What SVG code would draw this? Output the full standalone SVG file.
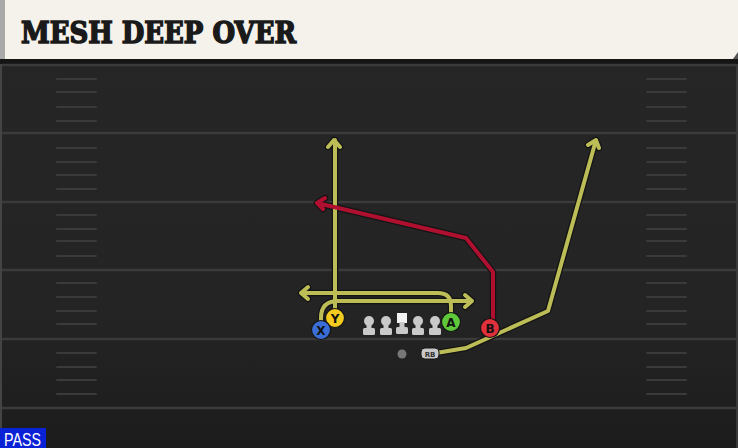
<svg xmlns="http://www.w3.org/2000/svg" width="738" height="448" viewBox="0 0 738 448">
<defs>
<linearGradient id="field" x1="0" y1="0" x2="0" y2="1">
<stop offset="0" stop-color="#262626"/>
<stop offset="0.7" stop-color="#242424"/>
<stop offset="1" stop-color="#1c1c1c"/>
</linearGradient>
<style>
.yard{stroke:#3b3b3b;stroke-width:2.5}
.hash{stroke:#3a3a3a;stroke-width:2;stroke-linecap:round}
.under{fill:none;stroke:#141414;stroke-width:6.5;stroke-linejoin:round;stroke-linecap:round}
.yel{fill:none;stroke:#bdbd58;stroke-width:4;stroke-linejoin:round;stroke-linecap:round}
.red{fill:none;stroke:#b01030;stroke-width:4;stroke-linejoin:round;stroke-linecap:round}
.pl{stroke:#151515;stroke-width:1.2}
.lbl{font-family:"DejaVu Sans",sans-serif;font-weight:bold;font-size:12px;fill:#111;text-anchor:middle}
.ol{fill:#c9c9c9}
</style>
</defs>
<rect x="0" y="0" width="738" height="448" fill="url(#field)"/>
<!-- header -->
<rect x="0" y="0" width="738" height="59" fill="#f5f2eb"/>
<polygon points="733,59 738,52 738,59" fill="#555"/>
<rect x="0" y="0" width="5" height="59" fill="#a9a9a9"/>
<rect x="0" y="59" width="738" height="5" fill="#151515"/>
<rect x="0" y="64" width="2" height="384" fill="#444"/>
<rect x="736" y="64" width="2" height="384" fill="#3a3a3a"/>
<text x="21" y="43" font-family="DejaVu Serif, serif" font-weight="bold" font-size="30" textLength="275" lengthAdjust="spacingAndGlyphs" fill="#1a1a1a" stroke="#1a1a1a" stroke-width="1.6" stroke-linejoin="miter">MESH DEEP OVER</text>
<!-- yard lines -->
<g id="yardlines">
<line class="yard" x1="2" y1="65" x2="736" y2="65"/>
<line class="yard" x1="2" y1="133" x2="736" y2="133"/>
<line class="yard" x1="2" y1="202" x2="736" y2="202"/>
<line class="yard" x1="2" y1="270" x2="736" y2="270"/>
<line class="yard" x1="2" y1="339" x2="736" y2="339"/>
<line class="yard" x1="2" y1="408" x2="736" y2="408"/>
</g>
<g id="hashes">
<path class="hash" d="M57 79H96M57 92H96M57 107H96M57 121H96M57 148H96M57 162H96M57 175H96M57 189H96M57 215H96M57 229H96M57 241H96M57 256H96M57 283H96M57 297H96M57 311H96M57 324H96M57 353H96M57 367H96M57 380H96M57 394H96"/>
<path class="hash" d="M647 79H686M647 92H686M647 107H686M647 121H686M647 148H686M647 162H686M647 175H686M647 189H686M647 215H686M647 229H686M647 241H686M647 256H686M647 283H686M647 297H686M647 311H686M647 324H686M647 353H686M647 367H686M647 380H686M647 394H686"/>
</g>
<!-- connectors -->
<g id="routes">
<path class="under" d="M335 318V140M328 147L334 140L340 147"/>
<path class="under" d="M451 320V306Q451 293 438 293H301M308 287L301 293L308 299"/>
<path class="under" d="M321 330V318Q321 301 338 301H472M465 295L472 301L465 307"/>
<path class="under" d="M493 328V272L466 238L317 203M325 198L317 203L323 209"/>
<path class="under" d="M430 354L466 348L548 311L596 140M588 145L596 140L599 148"/>
<path class="yel" d="M335 318V140M328 147L334 140L340 147"/>
<path class="yel" d="M451 320V306Q451 293 438 293H301M308 287L301 293L308 299"/>
<path class="yel" d="M321 330V318Q321 301 338 301H472M465 295L472 301L465 307"/>
<path class="red" d="M493 328V272L466 238L317 203M325 198L317 203L323 209"/>
<path class="yel" d="M430 354L466 348L548 311L596 140M588 145L596 140L599 148"/>
</g>
<!-- offensive line -->
<g id="line">
<g id="ol1" class="ol"><circle cx="369" cy="321" r="5"/><rect x="366.5" y="321" width="5" height="9"/><rect x="363" y="328" width="12" height="7" rx="1.5"/></g>
<g id="ol2" class="ol"><circle cx="386" cy="321" r="5"/><rect x="383.5" y="321" width="5" height="9"/><rect x="380" y="328" width="12" height="7" rx="1.5"/></g>
<g id="center" class="ol"><rect x="397" y="313" width="10" height="10" fill="#f2f2f2"/><rect x="399.5" y="322" width="5" height="7"/><rect x="396" y="327" width="12" height="7" rx="1.5"/></g>
<g id="ol4" class="ol"><circle cx="418" cy="321" r="5"/><rect x="415.5" y="321" width="5" height="9"/><rect x="412" y="328" width="12" height="7" rx="1.5"/></g>
<g id="ol5" class="ol"><circle cx="435" cy="321" r="5"/><rect x="432.5" y="321" width="5" height="9"/><rect x="429" y="328" width="12" height="7" rx="1.5"/></g>
</g>
<g id="qb"><circle cx="402" cy="354" r="4.5" fill="#777"/></g>
<g id="rb"><rect x="421" y="348" width="18" height="11" rx="4" fill="#c8c8c8" stroke="#151515" stroke-width="1"/><text x="430" y="357" font-family="DejaVu Sans, sans-serif" font-size="7" font-weight="bold" fill="#333" text-anchor="middle">RB</text></g>
<!-- receivers -->
<g id="Y"><circle class="pl" cx="335" cy="318" r="9.5" fill="#f4cc20"/><text class="lbl" x="335" y="322.5">Y</text></g>
<g id="X"><circle class="pl" cx="321" cy="330" r="9.5" fill="#3a6ed6"/><text class="lbl" x="321" y="334.5">X</text></g>
<g id="A"><circle class="pl" cx="451" cy="322" r="9.5" fill="#5ec83a"/><text class="lbl" x="451" y="326.5">A</text></g>
<g id="B"><circle class="pl" cx="490" cy="328" r="9.5" fill="#e0303c"/><text class="lbl" x="490" y="332.5">B</text></g>
<!-- PASS -->
<g id="pass"><rect x="0" y="428" width="46" height="20" fill="#0a22d6"/><text x="4" y="445.5" font-family="Liberation Sans, sans-serif" font-size="18" textLength="37" lengthAdjust="spacingAndGlyphs" fill="#ffffff">PASS</text></g>
</svg>
